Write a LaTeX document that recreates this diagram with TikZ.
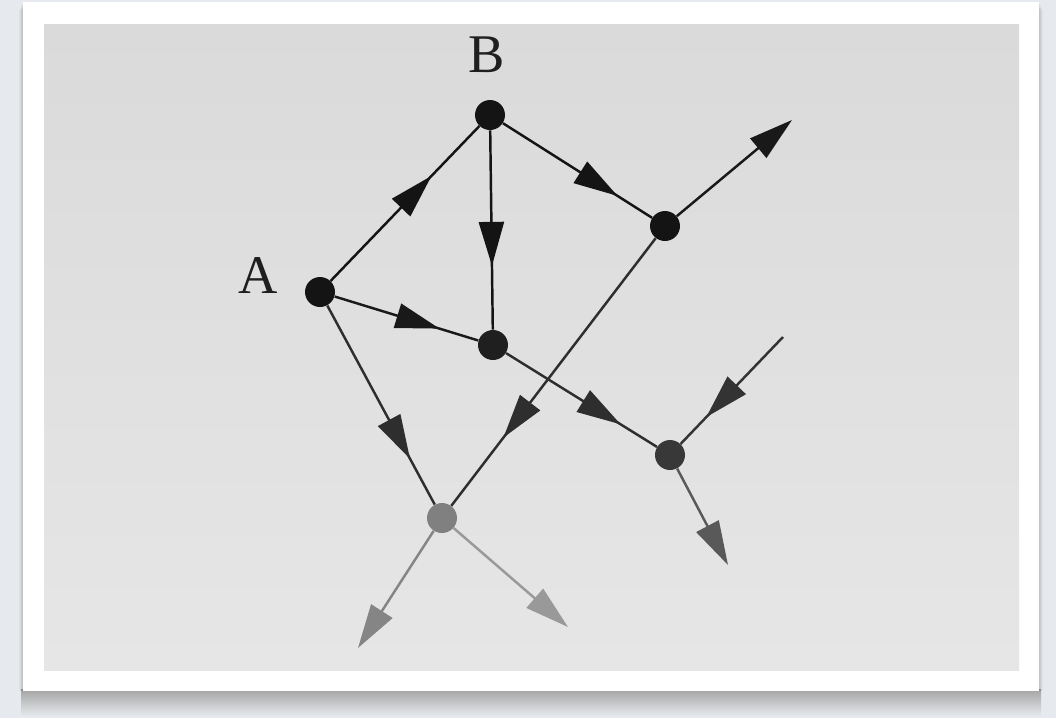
\documentclass[tikz,border=0pt]{standalone}
\usepackage{fontspec}
\newfontfamily\lblfont{Liberation Serif}
\usetikzlibrary{arrows.meta,decorations.markings}
\definecolor{pagebg}{HTML}{E6E9ED}
\definecolor{photoT}{HTML}{DADADA}
\definecolor{photoB}{HTML}{E6E6E6}
\begin{document}
\begin{tikzpicture}[x=0.02cm,y=-0.02cm,
  dot/.style={circle,fill=#1,draw=none,inner sep=0pt,minimum size=0.6cm},
  edge/.style={line width=1.4pt,draw=#1},
  headtip/.tip={Triangle[length=0.88cm,width=0.5cm]},
  mid/.style={postaction={decorate},decoration={markings,mark=at position #1 with {\arrow{headtip}}}},
  endarrow/.style={-{headtip}},
  lbl/.style={font=\lblfont\fontsize{31}{32}\selectfont,inner sep=0pt,text=black!88}]
% page and frame
\useasboundingbox (0,0) rectangle (1056,718);
\fill[pagebg] (0,0) rectangle (1056,718);
\shade[top color=black!36,bottom color=pagebg] (21,689) rectangle (1041,716);
\foreach \i in {1,...,5}{
  \fill[black,opacity=0.03] (23-\i*0.8,2+\i*1.5) rectangle (1039+\i*0.8,691);
}
\fill[white] (23,2) rectangle (1039,691);
\shade[top color=photoT,bottom color=photoB] (44,24) rectangle (1019,670);
% nodes
\node[dot=black!92] (B) at (490,115) {};
\node[dot=black!92] (A) at (320,292) {};
\node[dot=black!92] (C) at (665,226) {};
\node[dot=black!88] (D) at (493,345) {};
\node[dot=black!78] (E) at (670,455) {};
\node[dot=black!50] (F) at (442,518) {};
\node[lbl] (lB) at (487,55) {B};
\node[lbl] (lA) at (258,276) {A};
% free ends
\coordinate (c1) at (792,120);
\coordinate (c2) at (783,337);
\coordinate (c3) at (728,565);
\coordinate (c4) at (358,648);
\coordinate (c5) at (568,627);
% connectors
\draw[edge=black!92,mid=0.68] (A) -- (B);
\draw[edge=black!92,mid=0.68] (B) -- (D);
\draw[edge=black!92,mid=0.77] (B) -- (C);
\draw[edge=black!90,endarrow] (C) -- (c1);
\draw[edge=black!90,mid=0.73] (A) -- (D);
\draw[edge=black!82,mid=0.77] (A) -- (F);
\draw[edge=black!82,mid=0.745] (C) -- (F);
\draw[edge=black!82,mid=0.76] (D) -- (E);
\draw[edge=black!80,mid=0.75] (c2) -- (E);
\draw[edge=black!65,endarrow] (E) -- (c3);
\draw[edge=black!48,endarrow] (F) -- (c4);
\draw[edge=black!40,endarrow] (F) -- (c5);
\end{tikzpicture}
\end{document}
